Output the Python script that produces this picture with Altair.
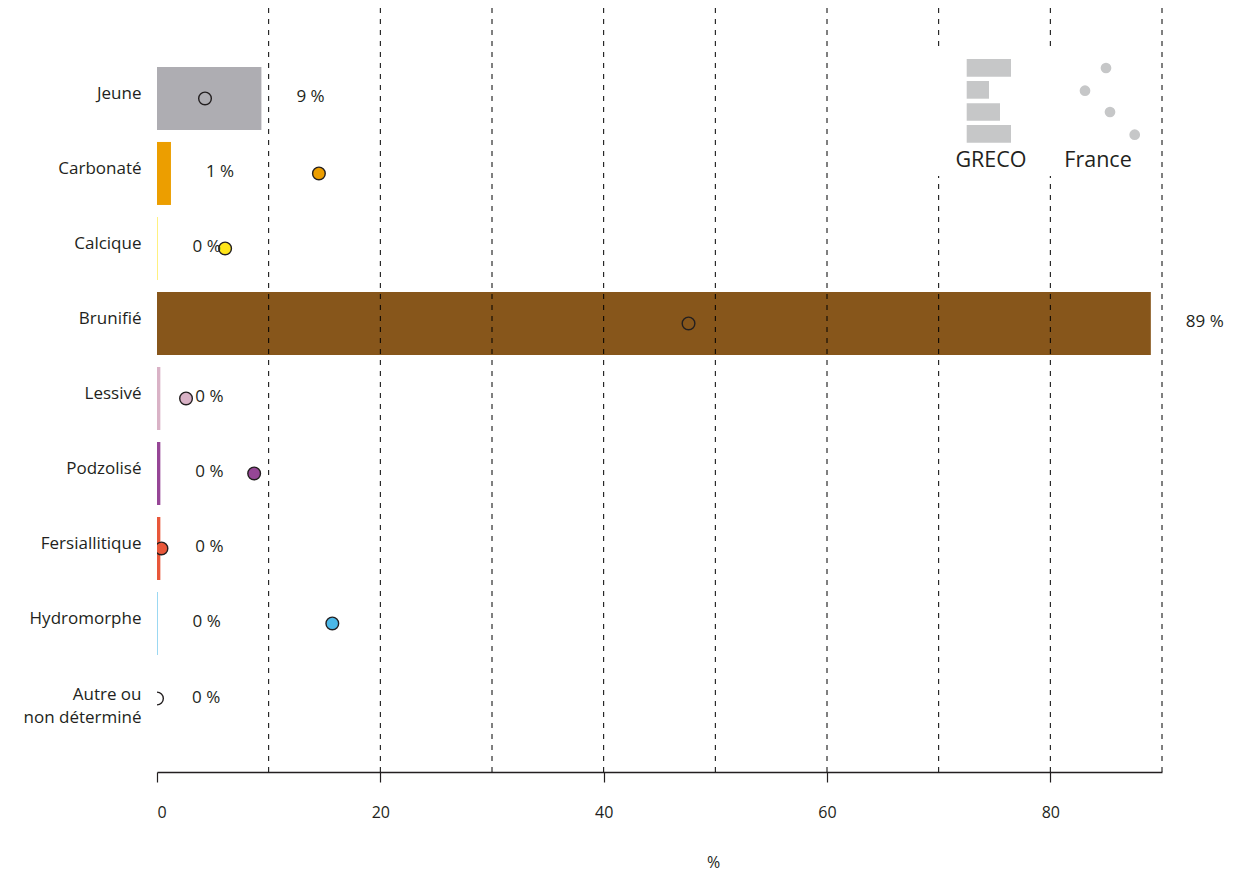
import altair as alt
import pandas as pd

# ---- data ----
categories = ["Jeune", "Carbonaté", "Calcique", "Brunifié", "Lessivé",
              "Podzolisé", "Fersiallitique", "Hydromorphe", "Autre ou non déterminé"]
greco = [9.35, 1.25, 0.05, 89.0, 0.3, 0.3, 0.3, 0.05, 0.0]
france = [4.3, 14.5, 6.1, 47.6, 2.6, 8.7, 0.4, 15.7, 0.0]
labels = ["9 %", "1 %", "0 %", "89 %", "0 %", "0 %", "0 %", "0 %", "0 %"]
colors = ["#AEADB2", "#EC9E00", "#FFE51A", "#87561B", "#D9B2C6",
          "#964696", "#E8573A", "#4BB8E8", "#FFFFFF"]
grid_values = [10, 20, 30, 40, 50, 60, 70, 80, 90]
tick_values = [0, 20, 40, 60, 80]

FONT = "Open Sans"
INK = "#231f20"

df = pd.DataFrame({"cat": categories, "greco": greco, "france": france, "label": labels})
grid_df = pd.DataFrame({"g": grid_values})

x_axis = alt.Axis(values=tick_values, grid=False, tickSize=10, tickColor=INK,
                  domainColor=INK, domainWidth=1.5, tickWidth=1.2,
                  labelPadding=22, labelFontSize=16, labelFont=FONT, labelColor=INK,
                  title="%", titleFont=FONT, titleFontSize=16, titleFontWeight="normal",
                  titleColor=INK, titleX=556, titleY=82, titleBaseline="top",
                  titleAlign="center")
x_scale = alt.Scale(domain=[0, 90], nice=False, zero=True)

y_enc = alt.Y("cat:N", sort=categories,
              scale=alt.Scale(paddingInner=0.16, paddingOuter=0.673, align=0.584),
              axis=alt.Axis(title=None, ticks=False, domain=False, labelPadding=16,
                            labelFont=FONT, labelFontSize=17, labelColor=INK,
                            labelBaseline="alphabetic", labelOffset=1, labelLineHeight=23,
                            labelLimit=300,
                            labelExpr="datum.label == 'Autre ou non déterminé' ? ['Autre ou', 'non déterminé'] : datum.label"))
fill_enc = alt.Fill("cat:N", scale=alt.Scale(domain=categories, range=colors), legend=None)

base = alt.Chart(df)

bars = base.mark_bar().encode(
    x=alt.X("greco:Q", scale=x_scale, axis=x_axis),
    y=y_enc,
    fill=fill_enc,
)

grid = alt.Chart(grid_df).mark_rule(color="black", strokeWidth=1, strokeDash=[5, 6]).encode(
    x=alt.X("g:Q", scale=x_scale, axis=x_axis),
)

points = base.mark_circle(size=160, stroke=INK, strokeWidth=1.4, opacity=1, clip=True).encode(
    x=alt.X("france:Q", scale=x_scale, axis=x_axis),
    y=y_enc,
    fill=fill_enc,
)

texts = base.mark_text(align="left", baseline="middle", dx=35, dy=-1, fontSize=17,
                       font=FONT, color=INK).encode(
    x=alt.X("greco:Q", scale=x_scale, axis=x_axis),
    y=y_enc,
    text="label:N",
)

# ---- hand-drawn legend (pixel layout in plot coordinates) ----
one = pd.DataFrame({"k": [0]})
LEG_GREY = "#C6C7C8"
legend_layers = [
    alt.Chart(one).mark_rect(color="white").encode(
        x=alt.value(777), x2=alt.value(998), y=alt.value(44), y2=alt.value(168))
]
for (x2, y1, y2) in [(854, 51, 68.7), (832, 73, 90.7), (843, 95.3, 112.7), (854, 117, 134.7)]:
    legend_layers.append(alt.Chart(one).mark_rect(color=LEG_GREY).encode(
        x=alt.value(809.7), x2=alt.value(x2), y=alt.value(y1), y2=alt.value(y2)))
for (cx, cy) in [(949, 60), (928, 82.7), (953, 104), (977.7, 126.7)]:
    legend_layers.append(alt.Chart(one).mark_circle(color=LEG_GREY, size=115, opacity=1).encode(
        x=alt.value(cx), y=alt.value(cy)))
for (tx, txt) in [(834, "GRECO"), (941, "France")]:
    legend_layers.append(alt.Chart(one).mark_text(
        text=txt, font=FONT, fontSize=21.5, color=INK, align="center", baseline="alphabetic").encode(
        x=alt.value(tx), y=alt.value(159)))

chart = alt.layer(bars, grid, points, texts, *legend_layers).properties(
    width=1005, height=764,
    autosize="none",
    padding={"left": 149, "top": 0, "right": 76, "bottom": 104},
    background="white",
).configure_view(stroke=None)

chart.save("out.html", embed_options={"renderer": "svg", "actions": False})
